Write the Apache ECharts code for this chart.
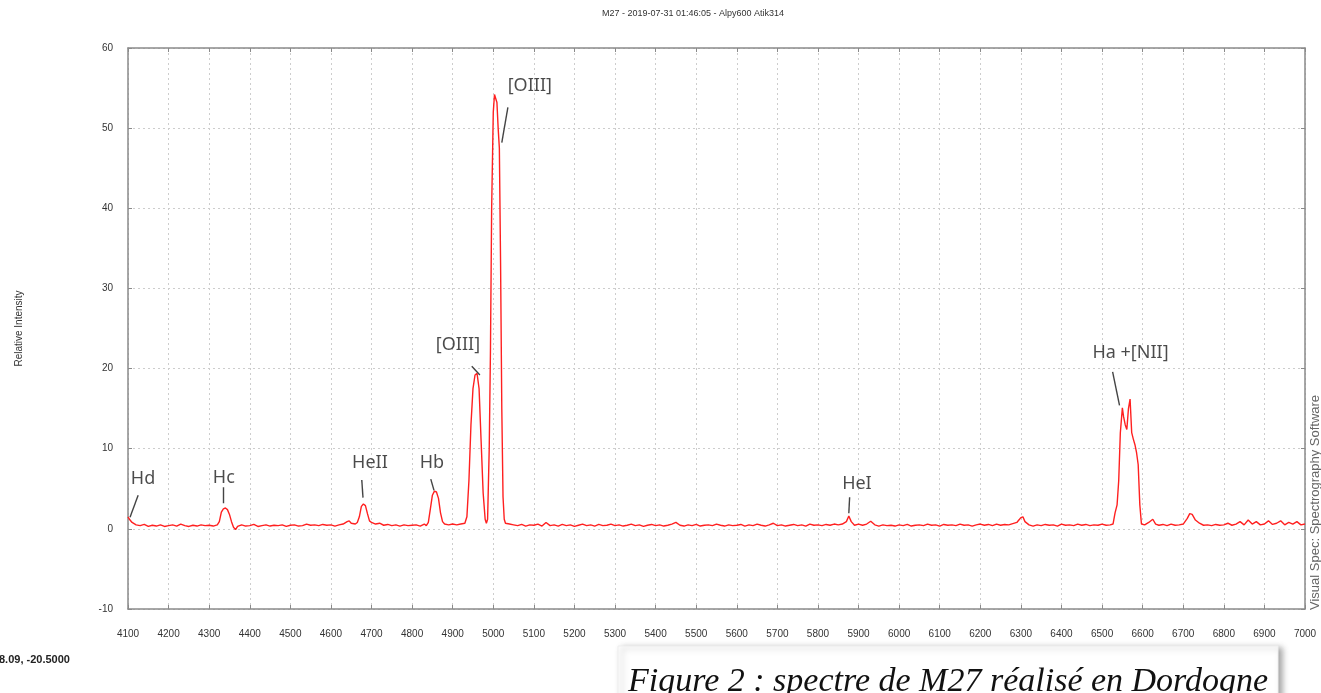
<!DOCTYPE html>
<html>
<head>
<meta charset="utf-8">
<title>M27 spectrum</title>
<script src="https://cdn.jsdelivr.net/npm/echarts@6/dist/echarts.min.js"></script>
<style>
  html, body { margin: 0; padding: 0; background: #fff; }
  #chart { width: 1321px; height: 693px; }
</style>
</head>
<body>
<div id="chart"></div>
<script>
"use strict";

// wavelength (Å) / relative intensity
const spectrum = [
  [4100, 1.5], [4105, 1.1], [4110, 0.8], [4120, 0.5], [4130, 0.4], [4140, 0.55], [4150, 0.3],
  [4160, 0.45], [4170, 0.35], [4180, 0.5], [4190, 0.3], [4200, 0.4], [4210, 0.5], [4220, 0.35],
  [4230, 0.6], [4240, 0.4], [4250, 0.3], [4260, 0.45], [4270, 0.35], [4280, 0.5], [4290, 0.4],
  [4300, 0.45], [4310, 0.35], [4320, 0.5], [4325, 0.9], [4330, 2.1], [4335, 2.5], [4340, 2.6],
  [4345, 2.4], [4350, 1.8], [4355, 0.9], [4360, 0.2], [4365, -0.1], [4370, 0.3], [4380, 0.5],
  [4390, 0.35], [4400, 0.4], [4410, 0.55], [4420, 0.3], [4430, 0.4], [4440, 0.5], [4450, 0.35],
  [4460, 0.45], [4470, 0.4], [4480, 0.5], [4490, 0.3], [4500, 0.45], [4510, 0.5], [4520, 0.35],
  [4530, 0.4], [4540, 0.6], [4550, 0.45], [4560, 0.5], [4570, 0.4], [4580, 0.55], [4590, 0.45],
  [4600, 0.5], [4610, 0.35], [4620, 0.5], [4630, 0.6], [4640, 0.9], [4645, 1.0], [4650, 0.7],
  [4660, 0.6], [4665, 0.8], [4670, 1.5], [4675, 2.8], [4680, 3.1], [4685, 2.9], [4690, 1.9],
  [4695, 1.0], [4700, 0.8], [4710, 0.6], [4720, 0.7], [4730, 0.45], [4740, 0.55], [4750, 0.4],
  [4760, 0.5], [4770, 0.35], [4780, 0.5], [4790, 0.4], [4800, 0.45], [4810, 0.5], [4820, 0.35],
  [4830, 0.6], [4835, 0.4], [4840, 0.8], [4845, 2.5], [4850, 4.2], [4855, 4.7], [4860, 4.6],
  [4865, 3.8], [4870, 2.0], [4875, 0.9], [4880, 0.6], [4890, 0.5], [4900, 0.6], [4910, 0.5],
  [4920, 0.6], [4930, 0.7], [4935, 1.5], [4940, 6], [4945, 13], [4950, 17.5], [4955, 19.2],
  [4960, 19.4], [4965, 17.5], [4970, 11], [4975, 4.5], [4980, 1.2], [4983, 0.7], [4986, 1.2],
  [4990, 10], [4993, 22], [4996, 40], [5000, 52], [5003, 54.2], [5006, 54], [5009, 53.2],
  [5012, 50], [5015, 47.5], [5018, 33], [5021, 15], [5024, 4], [5027, 1.2], [5030, 0.7],
  [5040, 0.6], [5050, 0.5], [5060, 0.4], [5070, 0.55], [5080, 0.35], [5090, 0.5], [5100, 0.45],
  [5110, 0.6], [5120, 0.35], [5130, 0.8], [5140, 0.4], [5150, 0.5], [5160, 0.35], [5170, 0.55],
  [5180, 0.4], [5190, 0.5], [5200, 0.3], [5210, 0.45], [5220, 0.6], [5230, 0.4], [5240, 0.5],
  [5250, 0.35], [5260, 0.55], [5270, 0.4], [5280, 0.45], [5290, 0.6], [5300, 0.4], [5310, 0.5],
  [5320, 0.35], [5330, 0.45], [5340, 0.6], [5350, 0.4], [5360, 0.5], [5370, 0.3], [5380, 0.45],
  [5390, 0.55], [5400, 0.4], [5410, 0.5], [5420, 0.35], [5430, 0.45], [5440, 0.6], [5450, 0.8],
  [5460, 0.45], [5470, 0.35], [5480, 0.5], [5490, 0.4], [5500, 0.55], [5510, 0.35], [5520, 0.45],
  [5530, 0.5], [5540, 0.4], [5550, 0.6], [5560, 0.45], [5570, 0.35], [5580, 0.5], [5590, 0.4],
  [5600, 0.45], [5610, 0.55], [5620, 0.35], [5630, 0.5], [5640, 0.4], [5650, 0.6], [5660, 0.45],
  [5670, 0.35], [5680, 0.5], [5690, 0.7], [5700, 0.4], [5710, 0.5], [5720, 0.35], [5730, 0.45],
  [5740, 0.55], [5750, 0.4], [5760, 0.5], [5770, 0.35], [5780, 0.6], [5790, 0.45], [5800, 0.5],
  [5810, 0.4], [5820, 0.55], [5830, 0.45], [5840, 0.6], [5850, 0.5], [5860, 0.6], [5870, 0.9],
  [5876, 1.6], [5882, 0.9], [5890, 0.45], [5900, 0.6], [5910, 0.45], [5920, 0.6], [5930, 0.95],
  [5940, 0.5], [5950, 0.35], [5960, 0.5], [5970, 0.4], [5980, 0.45], [5990, 0.35], [6000, 0.5],
  [6010, 0.4], [6020, 0.55], [6030, 0.35], [6040, 0.45], [6050, 0.5], [6060, 0.4], [6070, 0.6],
  [6080, 0.45], [6090, 0.5], [6100, 0.35], [6110, 0.55], [6120, 0.45], [6130, 0.5], [6140, 0.4],
  [6150, 0.6], [6160, 0.45], [6170, 0.5], [6180, 0.35], [6190, 0.5], [6200, 0.6], [6210, 0.45],
  [6220, 0.55], [6230, 0.4], [6240, 0.6], [6250, 0.45], [6260, 0.55], [6270, 0.5], [6280, 0.65],
  [6290, 0.8], [6295, 1.1], [6300, 1.4], [6305, 1.5], [6310, 0.9], [6320, 0.5], [6330, 0.35],
  [6340, 0.5], [6350, 0.4], [6360, 0.55], [6370, 0.45], [6380, 0.5], [6390, 0.35], [6400, 0.6],
  [6410, 0.45], [6420, 0.5], [6430, 0.4], [6440, 0.6], [6450, 0.45], [6460, 0.55], [6470, 0.4],
  [6480, 0.5], [6490, 0.45], [6500, 0.6], [6510, 0.45], [6520, 0.5], [6527, 0.6], [6532, 2.0],
  [6537, 3.0], [6541, 6], [6545, 12], [6550, 15.1], [6553, 14], [6557, 13], [6561, 12.4],
  [6565, 15], [6569, 16.2], [6573, 12], [6577, 11.2], [6581, 10.5], [6585, 9.5], [6589, 8],
  [6593, 3], [6597, 0.6], [6605, 0.5], [6615, 0.8], [6625, 1.2], [6632, 0.6], [6640, 0.45],
  [6650, 0.55], [6660, 0.4], [6670, 0.6], [6680, 0.45], [6690, 0.5], [6700, 0.6], [6710, 1.3],
  [6716, 1.9], [6722, 1.8], [6730, 1.1], [6740, 0.7], [6750, 0.45], [6760, 0.5], [6770, 0.4],
  [6780, 0.55], [6790, 0.45], [6800, 0.5], [6810, 0.7], [6820, 0.45], [6830, 0.6], [6840, 0.9],
  [6850, 0.5], [6860, 1.1], [6870, 0.6], [6880, 0.9], [6890, 0.5], [6900, 0.6], [6910, 1.0],
  [6920, 0.55], [6930, 0.7], [6940, 1.0], [6950, 0.5], [6960, 0.8], [6970, 0.6], [6980, 0.9],
  [6990, 0.5], [7000, 0.6]
];

// line identifications: [label, text x, text y] in data units
const lineLabels = [
  ["Hd", 4137, 6.2], ["Hc", 4336, 6.4], ["HeII", 4696, 8.2], ["Hb", 4849, 8.2],
  ["[OIII]", 4913, 22.9], ["[OIII]", 5090, 55.3], ["HeI", 5896, 5.6], ["Ha +[NII]", 6570, 21.9]
];

// leader lines: [x1, y1, x2, y2]
const leaders = [
  [4125, 4.2, 4105, 1.45], [4334, 5.2, 4334, 3.2], [4676, 6.1, 4679, 3.9], [4846, 6.2, 4854, 4.8],
  [4947, 20.3, 4967, 19.2], [5036, 52.6, 5021, 48.2], [5878, 3.95, 5876, 1.95], [6526, 19.6, 6543, 15.4]
];

const xRange = [4100, 7000];
const yRange = [-10, 60];

const chartTitle = "M27 - 2019-07-31 01:46:05 - Alpy600 Atik314";
const yName = "Relative Intensity";
const sideNote = "Visual Spec: Spectrography Software";
const cursorNote = "8.09, -20.5000";
const caption = "Figure 2 : spectre de M27 réalisé en Dordogne";

const axisColor = "#8a8a8a";
const tickFont = { fontFamily: "Liberation Sans, Arial, sans-serif", fontSize: 10, color: "#333" };

const frameAxis = (extra) => Object.assign({
  type: "value",
  axisLine: { show: true, onZero: false, lineStyle: { color: axisColor, width: 1.5 } },
  axisTick: { show: true, inside: true, length: 4, lineStyle: { color: axisColor } },
  splitLine: { show: false },
  axisLabel: { show: false }
}, extra);

const chart = echarts.init(document.getElementById("chart"), null, { renderer: "canvas" });

chart.setOption({
  animation: false,
  backgroundColor: "#fff",
  title: {
    text: chartTitle,
    left: 597,
    top: 4,
    textStyle: { fontFamily: "Liberation Sans, Arial, sans-serif", fontSize: 9, fontWeight: "normal", color: "#333" }
  },
  grid: { left: 128, right: 16, top: 48, bottom: 84 },
  xAxis: [
    frameAxis({
      min: xRange[0], max: xRange[1], interval: 100, position: "bottom",
      axisLabel: Object.assign({ show: true, margin: 20, formatter: v => String(v) }, tickFont),
      splitLine: { show: true, lineStyle: { color: "#cdcdcd", type: [2, 3], width: 1 } }
    }),
    frameAxis({ min: xRange[0], max: xRange[1], interval: 100, position: "top" })
  ],
  yAxis: [
    frameAxis({
      min: yRange[0], max: yRange[1], interval: 10, position: "left",
      name: yName, nameLocation: "middle", nameGap: 104,
      nameTextStyle: { fontFamily: "Liberation Sans, Arial, sans-serif", fontSize: 10, color: "#333" },
      axisLabel: Object.assign({ show: true, margin: 15 }, tickFont),
      splitLine: { show: true, lineStyle: { color: "#cdcdcd", type: [2, 3], width: 1 } }
    }),
    frameAxis({ min: yRange[0], max: yRange[1], interval: 10, position: "right" })
  ],
  series: [
    {
      type: "line",
      data: spectrum,
      showSymbol: false,
      symbol: "none",
      lineStyle: { color: "#ff2020", width: 1.4 },
      z: 3
    },
    {
      type: "lines",
      coordinateSystem: "cartesian2d",
      data: leaders.map(d => ({ coords: [[d[0], d[1]], [d[2], d[3]]] })),
      lineStyle: { color: "#444", width: 1.4, opacity: 1 },
      z: 4
    },
    {
      type: "scatter",
      data: lineLabels.map(d => ({ value: [d[1], d[2]], name: d[0] })),
      symbolSize: 2,
      itemStyle: { color: "rgba(0,0,0,0)" },
      label: {
        show: true,
        position: "inside",
        formatter: p => p.name,
        fontFamily: "Noto Sans, Open Sans, sans-serif",
        fontSize: 18,
        color: "#1e1e1e"
      },
      labelLayout: { hideOverlap: false },
      z: 5
    }
  ],
  graphic: [
    {
      type: "text",
      x: 1315,
      y: 610,
      rotation: Math.PI / 2,
      style: {
        text: sideNote,
        font: "13px Liberation Sans, Arial, sans-serif",
        fill: "#666",
        textAlign: "left",
        textVerticalAlign: "middle"
      }
    },
    {
      type: "text",
      left: -1,
      top: 654,
      style: { text: cursorNote, font: "bold 11px Liberation Sans, Arial, sans-serif", fill: "#222" }
    },
    {
      type: "rect",
      shape: { x: 618, y: 646, width: 660, height: 70 },
      style: { fill: "#fff", stroke: "#eee", lineWidth: 1, shadowBlur: 6, shadowOffsetX: 4, shadowOffsetY: 2, shadowColor: "rgba(0,0,0,0.35)" }
    },
    {
      type: "text",
      left: 628,
      top: 665,
      style: { text: caption, font: "italic 34px Liberation Serif, Times New Roman, serif", fill: "#111" }
    }
  ]
});
</script>
</body>
</html>
